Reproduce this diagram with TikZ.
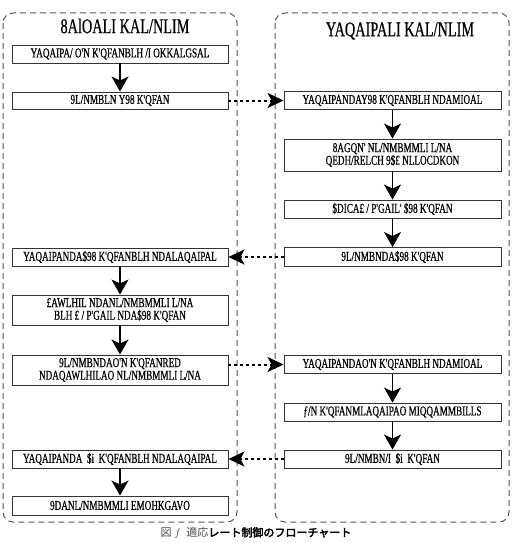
\documentclass[tikz,border=0pt]{standalone}
\usepackage{fontspec}
\setmainfont{Liberation Serif}
\newfontfamily\boxfont[FakeStretch=0.68, FakeBold=0.6]{Liberation Serif}
\newfontfamily\cjk{Noto Sans CJK JP}
\newfontfamily\cjkb[FakeBold=3]{Noto Sans CJK JP}
\usetikzlibrary{arrows.meta}
\tikzset{
  frame/.style={draw=black!65, dashed, dash pattern=on 6pt off 4pt, line width=1pt, rounded corners=10pt},
  stepbox/.style={draw=black!80, line width=0.9pt, inner sep=0pt, align=center,
     font=\boxfont\fontsize{13.5}{12.6}\selectfont},
  lbox/.style={stepbox, minimum width=216pt},
  rbox/.style={stepbox, minimum width=217pt},
  ttl/.style={inner sep=0pt, font=\boxfont\fontsize{21}{21}\selectfont},
  flow/.style={line width=1.3pt, -{Stealth[length=15pt, width=17pt, inset=4pt]}},
  msg/.style={line width=2pt, dash pattern=on 3pt off 3pt, -{Stealth[length=16pt, width=15pt, inset=4pt]}}
}
\begin{document}
\begin{tikzpicture}[x=1pt, y=-1pt]
\path[use as bounding box, fill=white] (0,0) rectangle (514,543);
% frames
\draw[frame] (3,13) rectangle (237,522);
\draw[frame] (275,13) rectangle (509,522);
% titles
\node[ttl] (lt) at (125,26) {8AlOALI KAL/NLIM};
\node[ttl] (rt) at (400,31) {YAQAIPALI KAL/NLIM};
% left column
\node[lbox, minimum height=18pt] (L1) at (120,54) {YAQAIPA/ O'N K'QFANBLH /I OKKALGSAL};
\node[lbox, minimum height=17pt] (L2) at (120,100.5) {9L/NMBLN Y98 K'QFAN};
\node[lbox, minimum height=18pt] (L3) at (120,257) {YAQAIPANDA\$98 K'QFANBLH NDALAQAIPAL};
\node[lbox, minimum height=30pt] (L4) at (120,310) {£AWLHIL NDANL/NMBMMLI L/NA\\BLH £ / P'GAIL NDA\$98 K'QFAN};
\node[lbox, minimum height=30pt] (L5) at (120,370) {9L/NMBNDAO'N K'QFANRED\\NDAQAWLHILAO NL/NMBMMLI L/NA};
\node[lbox, minimum height=18pt] (L6) at (120,459) {YAQAIPANDA \ \$i \ K'QFANBLH NDALAQAIPAL};
\node[lbox, minimum height=19pt] (L7) at (120,505.5) {9DANL/NMBMMLI EMOHKGAVO};
% right column
\node[rbox, minimum height=18pt] (R1) at (392.5,100.5) {YAQAIPANDAY98 K'QFANBLH NDAMIOAL};
\node[rbox, minimum height=32pt] (R2) at (392.5,155) {8AGQN' NL/NMBMMLI L/NA\\QEDH/RELCH 9\$£ NLLOCDKON};
\node[rbox, minimum height=18pt] (R3) at (392.5,209) {\$DICA£ / P'GAIL' \$98 K'QFAN};
\node[rbox, minimum height=19pt] (R4) at (392.5,257) {9L/NMBNDA\$98 K'QFAN};
\node[rbox, minimum height=18pt] (R5) at (392.5,364.5) {YAQAIPANDAO'N K'QFANBLH NDAMIOAL};
\node[rbox, minimum height=18pt] (R6) at (392.5,412) {ƒ/N K'QFANMLAQAIPAO MIQQAMMBILLS};
\node[rbox, minimum height=18pt] (R7) at (392.5,459) {9L/NMBN/I \ \$i \ K'QFAN};
% flow arrows
\draw[flow] (L1) -- (L2);
\draw[flow] (L3) -- (L4);
\draw[flow] (L4) -- (L5);
\draw[flow] (L6) -- (L7);
\draw[flow] (R1) -- (R2);
\draw[flow] (R2) -- (R3);
\draw[flow] (R3) -- (R4);
\draw[flow] (R5) -- (R6);
\draw[flow] (R6) -- (R7);
% messages
\draw[msg] (L2.east) -- (R1.west);
\draw[msg] (R4.west) -- (L3.east);
\draw[msg] (L5.east |- R5.west) -- (R5.west);
\draw[msg] (R7.west) -- (L6.east);
% caption
\node[inner sep=0pt, font=\fontsize{11}{11}\selectfont] (cap) at (256,533)
  {{\cjk\color{black!70}図} {\color{black!70}$f$}\ \ {\cjk\color{black!70}適応}{\cjkb レート制御のフローチャート}};
\end{tikzpicture}
\end{document}
